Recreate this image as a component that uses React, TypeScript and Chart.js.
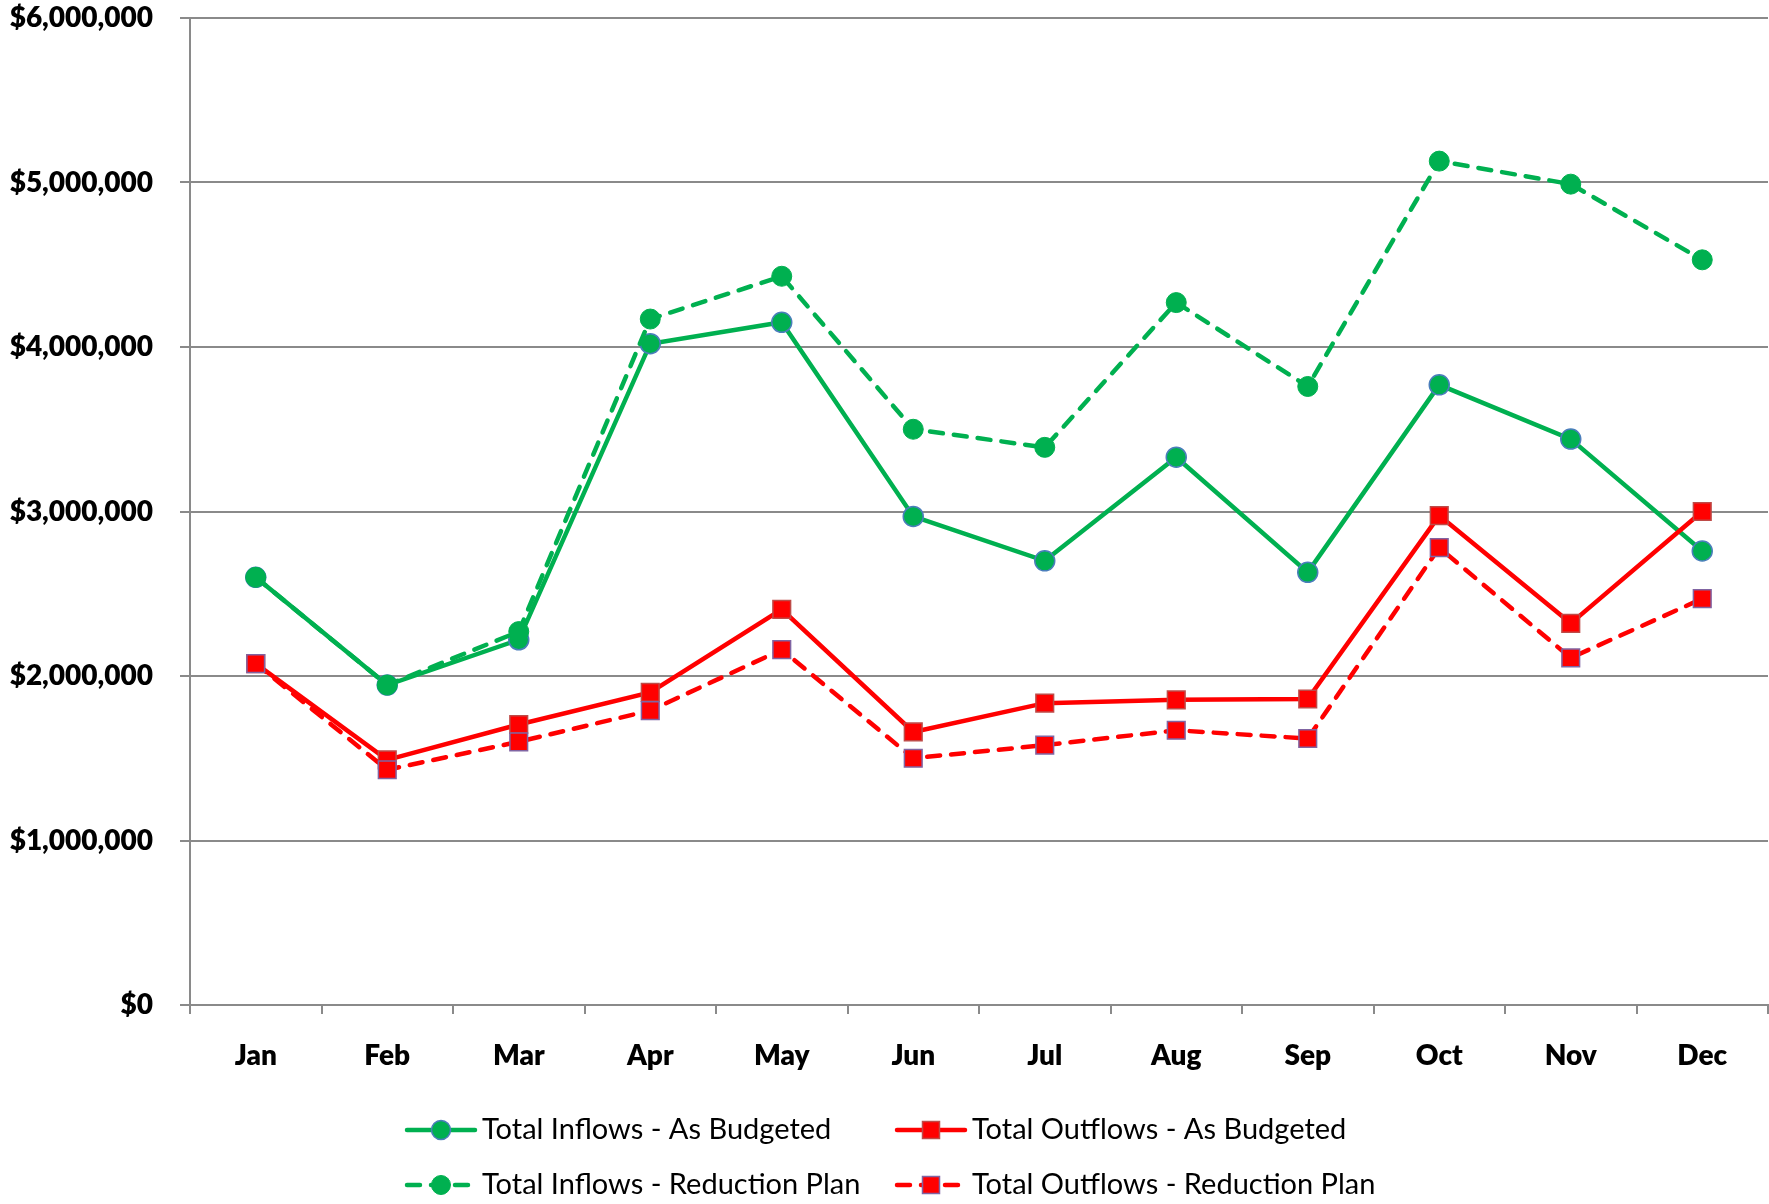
import React, { useEffect, useRef } from 'react';
import { Chart, registerables } from 'chart.js';

Chart.register(...registerables);

const months = ['Jan', 'Feb', 'Mar', 'Apr', 'May', 'Jun', 'Jul', 'Aug', 'Sep', 'Oct', 'Nov', 'Dec'];

const inflowsBudgeted = [2600000, 1945000, 2220000, 4020000, 4150000, 2970000, 2700000, 3330000, 2630000, 3770000, 3440000, 2760000];
const inflowsReduction = [2600000, 1945000, 2270000, 4170000, 4430000, 3500000, 3390000, 4270000, 3760000, 5130000, 4990000, 4530000];
const outflowsBudgeted = [2075000, 1490000, 1705000, 1900000, 2405000, 1660000, 1835000, 1855000, 1860000, 2975000, 2320000, 3000000];
const outflowsReduction = [2075000, 1430000, 1600000, 1790000, 2160000, 1500000, 1580000, 1670000, 1620000, 2780000, 2110000, 2470000];

const seriesLabels = [
  'Total Inflows - As Budgeted',
  'Total Outflows - As Budgeted',
  'Total Inflows - Reduction Plan',
  'Total Outflows - Reduction Plan',
];

const yMin = 0;
const yMax = 6000000;
const yStep = 1000000;

const GREEN = '#00B050';
const RED = '#FF0000';
const GRID = '#8a8a8a';
const DASH = [13, 11];

const legendPlugin = {
  id: 'gridLegend',
  afterDraw(chart: any) {
    const ctx = chart.ctx as CanvasRenderingContext2D;
    const slots = [
      { x: 405, y: 1130 },
      { x: 895, y: 1130 },
      { x: 405, y: 1185 },
      { x: 895, y: 1185 },
    ];
    chart.data.datasets.forEach((ds: any, i: number) => {
      const s = slots[i];
      if (!s) return;
      ctx.save();
      ctx.strokeStyle = ds.borderColor;
      ctx.lineWidth = ds.borderWidth;
      ctx.lineCap = 'round';
      ctx.setLineDash(ds.borderDash || []);
      ctx.beginPath();
      ctx.moveTo(s.x + 2, s.y);
      ctx.lineTo(s.x + 70, s.y);
      ctx.stroke();
      ctx.setLineDash([]);
      const cx = s.x + 36;
      ctx.fillStyle = ds.pointBackgroundColor;
      ctx.strokeStyle = ds.pointBorderColor;
      ctx.lineWidth = ds.pointBorderWidth;
      if (ds.pointStyle === 'rect') {
        const side = 17;
        ctx.fillRect(cx - side / 2, s.y - side / 2, side, side);
        ctx.strokeRect(cx - side / 2, s.y - side / 2, side, side);
      } else {
        ctx.beginPath();
        ctx.arc(cx, s.y, 9.5, 0, Math.PI * 2);
        ctx.fill();
        ctx.stroke();
      }
      ctx.fillStyle = '#000';
      ctx.font = '29px Lato';
      ctx.textBaseline = 'middle';
      ctx.textAlign = 'left';
      ctx.fillText(ds.label, s.x + 77, s.y);
      ctx.restore();
    });
  },
};

export default function App() {
  const canvasRef = useRef<HTMLCanvasElement | null>(null);

  useEffect(() => {
    document.body.style.margin = '0';
    const canvas = canvasRef.current;
    if (!canvas) return;
    const chart = new Chart(canvas, {
      type: 'line',
      data: {
        labels: months,
        datasets: [
          {
            label: seriesLabels[0],
            data: inflowsBudgeted,
            borderColor: GREEN,
            borderWidth: 4.5,
            pointStyle: 'circle',
            pointRadius: 10,
            pointBackgroundColor: GREEN,
            pointBorderColor: '#4a7ebb',
            pointBorderWidth: 1.5,
            tension: 0,
            order: 4,
          },
          {
            label: seriesLabels[1],
            data: outflowsBudgeted,
            borderColor: RED,
            borderWidth: 4.5,
            pointStyle: 'rect',
            pointRadius: 12.5,
            pointBackgroundColor: RED,
            pointBorderColor: '#be4b48',
            pointBorderWidth: 1.5,
            tension: 0,
            order: 3,
          },
          {
            label: seriesLabels[2],
            data: inflowsReduction,
            borderColor: GREEN,
            borderWidth: 4.5,
            borderDash: DASH,
            borderCapStyle: 'round',
            pointStyle: 'circle',
            pointRadius: 10,
            pointBackgroundColor: GREEN,
            pointBorderColor: GREEN,
            pointBorderWidth: 1,
            tension: 0,
            order: 2,
          },
          {
            label: seriesLabels[3],
            data: outflowsReduction,
            borderColor: RED,
            borderWidth: 4.5,
            borderDash: DASH,
            borderCapStyle: 'round',
            pointStyle: 'rect',
            pointRadius: 12.5,
            pointBackgroundColor: RED,
            pointBorderColor: '#8064a2',
            pointBorderWidth: 1.5,
            tension: 0,
            order: 1,
          },
        ],
      },
      options: {
        responsive: true,
        maintainAspectRatio: false,
        animation: false,
        devicePixelRatio: 1,
        layout: { autoPadding: false, padding: { top: 18, right: 1, left: 0, bottom: 0 } },
        plugins: {
          legend: { display: false },
          tooltip: { enabled: false },
          title: { display: false },
        },
        scales: {
          x: {
            offset: true,
            afterFit: (scale: any) => {
              scale.height = 199;
              scale.paddingLeft = 0;
              scale.paddingRight = 0;
            },
            grid: {
              offset: true,
              drawOnChartArea: false,
              drawTicks: true,
              tickLength: 9,
              color: GRID,
              lineWidth: 2,
            },
            border: { display: true, color: GRID, width: 2 },
            ticks: {
              color: '#000',
              padding: 25,
              maxRotation: 0,
              autoSkip: false,
              font: { family: 'Lato', size: 28, weight: '800' },
            },
          },
          y: {
            min: yMin,
            max: yMax,
            afterFit: (scale: any) => {
              scale.width = 190;
              scale.paddingTop = 0;
              scale.paddingBottom = 0;
            },
            grid: {
              drawTicks: true,
              tickLength: 10,
              color: GRID,
              lineWidth: 2,
            },
            border: { display: true, color: GRID, width: 2 },
            ticks: {
              stepSize: yStep,
              color: '#000',
              padding: 27,
              font: { family: 'Lato', size: 28, weight: '800' },
              callback: (v: any) => '$' + Number(v).toLocaleString('en-US'),
            },
          },
        },
      },
      plugins: [legendPlugin],
    });
    return () => chart.destroy();
  }, []);

  return (
    <div style={{ position: 'relative', width: '1769px', height: '1204px' }}>
      <canvas ref={canvasRef} />
    </div>
  );
}
